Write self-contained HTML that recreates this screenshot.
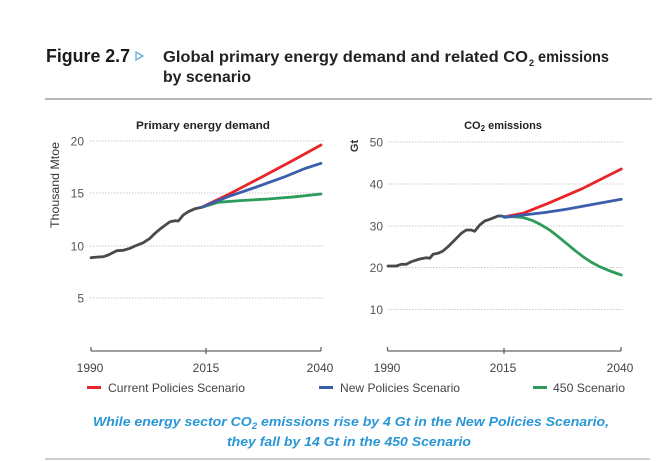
<!DOCTYPE html>
<html>
<head>
<meta charset="utf-8">
<style>
html,body{margin:0;padding:0;background:#fff;}
svg{display:block;}
text{font-family:"Liberation Sans",sans-serif;}
</style>
</head>
<body>
<svg width="665" height="461" viewBox="0 0 665 461" xmlns="http://www.w3.org/2000/svg">
<rect width="665" height="461" fill="#fff"/>

<!-- Header -->
<text x="46" y="62" font-size="18" font-weight="bold" fill="#1a1a1a" textLength="84" lengthAdjust="spacingAndGlyphs">Figure 2.7</text>
<polygon points="136,52 136,60 143,56" fill="none" stroke="#5aaee0" stroke-width="1.3"/>
<text x="163" y="62" font-size="16" font-weight="bold" fill="#222" textLength="365" lengthAdjust="spacingAndGlyphs">Global primary energy demand and related CO</text>
<text x="529" y="66" font-size="9" font-weight="bold" fill="#222">2</text>
<text x="538" y="62" font-size="16" font-weight="bold" fill="#222" textLength="71" lengthAdjust="spacingAndGlyphs">emissions</text>
<text x="163" y="82" font-size="16" font-weight="bold" fill="#222" textLength="88" lengthAdjust="spacingAndGlyphs">by scenario</text>
<line x1="45" y1="99" x2="652" y2="99" stroke="#a0a0a0" stroke-width="1.5"/>

<!-- Left chart -->
<text x="203" y="129" font-size="11" font-weight="bold" fill="#222" text-anchor="middle" textLength="134" lengthAdjust="spacingAndGlyphs">Primary energy demand</text>
<g stroke="#c8c8c8" stroke-width="1" stroke-dasharray="1.5,1.5">
<line x1="90" y1="141" x2="323" y2="141"/>
<line x1="90" y1="193" x2="323" y2="193"/>
<line x1="90" y1="246" x2="323" y2="246"/>
<line x1="90" y1="298" x2="323" y2="298"/>
</g>
<g font-size="12" fill="#555" text-anchor="end">
<text x="84" y="145.5">20</text>
<text x="84" y="197.5">15</text>
<text x="84" y="250.5">10</text>
<text x="84" y="302.5">5</text>
</g>
<text transform="translate(59,185) rotate(-90)" font-size="12" fill="#333" text-anchor="middle" textLength="86" lengthAdjust="spacingAndGlyphs">Thousand Mtoe</text>
<line x1="91" y1="351" x2="321" y2="351" stroke="#666" stroke-width="1.3"/>
<g stroke="#666" stroke-width="1.3">
<line x1="91" y1="347" x2="91" y2="351"/>
<line x1="206" y1="348" x2="206" y2="354"/>
<line x1="321" y1="347" x2="321" y2="351"/>
</g>
<g font-size="12" fill="#444" text-anchor="middle">
<text x="90" y="372">1990</text>
<text x="206" y="372">2015</text>
<text x="320" y="372">2040</text>
</g>
<g fill="none" stroke-width="2.8" stroke-linejoin="round" stroke-linecap="round">
<polyline stroke="#4a4a4a" points="91,257.7 98.3,257 103.3,256.7 108.3,255 116.7,250.7 123.3,250.3 130,248.3 135,246 143.3,242.7 150,238.3 155,233.3 161.7,227.7 170,221.7 175,220.7 178.3,221 183.3,215 188.3,211.7 195,208.7 201.7,207.3"/>
<polyline stroke="#e8262a" points="201.7,207.3 228.3,194.5 260,178 290,162 321,145"/>
<polyline stroke="#2e9b5a" points="201.7,207.3 218.3,202.3 240,200.6 268,199 295,196.8 321,194"/>
<polyline stroke="#3a5eab" points="201.7,207.3 228,196.7 255,187.5 285,176.7 305,168.5 321,163.3"/>
</g>

<!-- Right chart -->
<text x="503" y="129" font-size="11" font-weight="bold" fill="#222" text-anchor="middle">CO<tspan font-size="8" dy="2">2</tspan><tspan dy="-2"> emissions</tspan></text>
<g stroke="#c8c8c8" stroke-width="1" stroke-dasharray="1.5,1.5">
<line x1="388" y1="142" x2="623" y2="142"/>
<line x1="388" y1="184" x2="623" y2="184"/>
<line x1="388" y1="226" x2="623" y2="226"/>
<line x1="388" y1="267.5" x2="623" y2="267.5"/>
<line x1="388" y1="309.5" x2="623" y2="309.5"/>
</g>
<g font-size="12" fill="#555" text-anchor="end">
<text x="383" y="146.5">50</text>
<text x="383" y="188.5">40</text>
<text x="383" y="230.5">30</text>
<text x="383" y="272">20</text>
<text x="383" y="314">10</text>
</g>
<text transform="translate(358,146) rotate(-90)" font-size="11" font-weight="bold" fill="#333" text-anchor="middle">Gt</text>
<line x1="387.5" y1="351" x2="621" y2="351" stroke="#666" stroke-width="1.3"/>
<g stroke="#666" stroke-width="1.3">
<line x1="387.5" y1="347" x2="387.5" y2="351"/>
<line x1="504" y1="348" x2="504" y2="354"/>
<line x1="621" y1="347" x2="621" y2="351"/>
</g>
<g font-size="12" fill="#444" text-anchor="middle">
<text x="387" y="372">1990</text>
<text x="503" y="372">2015</text>
<text x="620" y="372">2040</text>
</g>
<g fill="none" stroke-width="2.8" stroke-linejoin="round" stroke-linecap="round">
<polyline stroke="#4a4a4a" points="388,266 396.3,266 401.3,264.3 406.3,264.3 411.3,261.7 419.7,259 426.3,257.7 429.7,258.3 433,254.3 438,253.3 443,251 448,246.7 454.7,240 461.3,233.3 466.3,230 471.3,230 474.7,231.3 479.7,225 484.7,221 489.7,219.3 494.7,217.3 498,216 501.3,216"/>
<polyline stroke="#e8262a" points="501.3,216 504.7,216.7 523,213.3 549.7,202.7 583,188.3 621.3,169"/>
<polyline stroke="#2e9b5a" points="501.3,216 504.7,216.7 515,216.8 523,217.5 533,220.7 541,224.8 549.7,230 558,236.5 566.3,243.3 575,250.5 583,256.7 591,262 599.7,266.7 610,271 621.3,275"/>
<polyline stroke="#3a5eab" points="501.3,216 504.7,217.3 523,215 545,212.5 566.3,209.3 595,204 621.3,199.3"/>
</g>

<!-- Legend -->
<line x1="87" y1="387.5" x2="101" y2="387.5" stroke="#e8262a" stroke-width="3"/>
<text x="108" y="392" font-size="12" fill="#444" textLength="137" lengthAdjust="spacingAndGlyphs">Current Policies Scenario</text>
<line x1="319" y1="387.5" x2="333" y2="387.5" stroke="#3a5eab" stroke-width="3"/>
<text x="340" y="392" font-size="12" fill="#444" textLength="120" lengthAdjust="spacingAndGlyphs">New Policies Scenario</text>
<line x1="533" y1="387.5" x2="547" y2="387.5" stroke="#2e9b5a" stroke-width="3"/>
<text x="553" y="392" font-size="12" fill="#444" textLength="72" lengthAdjust="spacingAndGlyphs">450 Scenario</text>

<!-- Caption -->
<text x="93" y="426" font-size="13" font-weight="bold" font-style="italic" fill="#2a96d6" textLength="516" lengthAdjust="spacingAndGlyphs">While energy sector CO<tspan font-size="9" dy="3">2</tspan><tspan dy="-3"> emissions rise by 4 Gt in the New Policies Scenario,</tspan></text>
<text x="227" y="446" font-size="13" font-weight="bold" font-style="italic" fill="#2a96d6" textLength="244" lengthAdjust="spacingAndGlyphs">they fall by 14 Gt in the 450 Scenario</text>
<line x1="45" y1="459" x2="650" y2="459" stroke="#cfcfcf" stroke-width="2"/>
</svg>
</body>
</html>
